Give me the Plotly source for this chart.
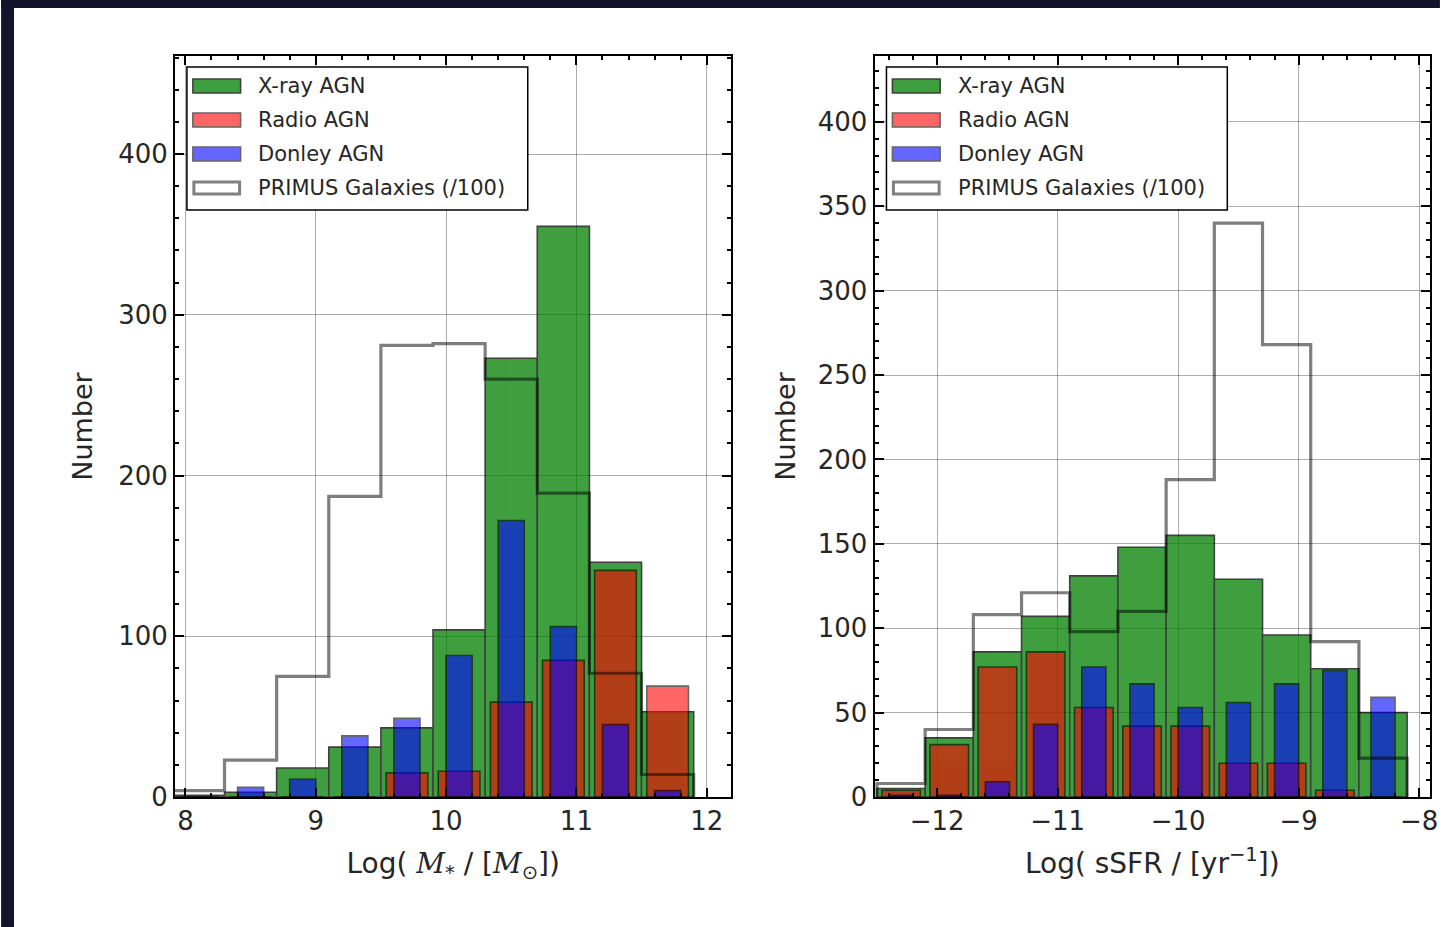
import plotly.graph_objects as go

# ---------------- data ----------------
# Left panel: stellar mass histogram (bin centres, width 0.4 dex)
mass_centers = [8.1, 8.5, 8.9, 9.3, 9.7, 10.1, 10.5, 10.9, 11.3, 11.7]
mass_xray   = [1, 3, 18, 31, 43, 104, 273, 355, 146, 53]
mass_radio  = [0, 0, 0, 0, 15, 16, 59, 85, 141, 69]
mass_donley = [0, 6, 11, 38, 49, 88, 172, 106, 45, 4]
mass_primus = [4, 23, 75, 187, 281, 282, 260, 189, 77, 14]

# Right panel: sSFR histogram (bin centres, width 0.4 dex)
ssfr_centers = [-12.3, -11.9, -11.5, -11.1, -10.7, -10.3, -9.9, -9.5, -9.1, -8.7, -8.3]
ssfr_xray   = [5, 35, 86, 107, 131, 148, 155, 129, 96, 76, 50]
ssfr_radio  = [4, 31, 77, 86, 53, 42, 42, 20, 20, 4, 0]
ssfr_donley = [1, 1, 9, 43, 77, 67, 53, 56, 67, 75, 59]
ssfr_primus = [8, 40, 108, 121, 98, 110, 188, 340, 268, 92, 23]

bin_width = 0.4

series_names = ["X-ray AGN", "Radio AGN", "Donley AGN", "PRIMUS Galaxies (/100)"]
series_colors = ["#008000", "#ff0000", "#0000ff", "#000000"]
series_alpha = [0.75, 0.6, 0.6, 0.5]
series_rwidth = [1.0, 0.8, 0.5]

# ---------------- layout constants ----------------
W, H = 1448, 927
ML, MR, MT, MB = 175, 10, 56, 130
PW, PH = W - ML - MR, H - MT - MB

def px_x(px):
    return (px - ML) / PW

def px_y(py):
    return 1 - (py - MT) / PH

FONT = "DejaVu Sans"
TXT = "#262626"

fig = go.Figure()

def add_panel(centers, xray, radio, donley, primus, xa, ya):
    for vals, name, col, a, rw in zip([xray, radio, donley], series_names[:3],
                                      series_colors[:3], series_alpha[:3], series_rwidth):
        fig.add_trace(go.Bar(
            x=centers, y=vals, width=bin_width * rw, name=name,
            marker=dict(color=col, line=dict(color="black", width=1.6)),
            opacity=a, xaxis=xa, yaxis=ya, showlegend=False))
    # step outline for PRIMUS from bin edges
    sx, sy = [], []
    for c, v in zip(centers, primus):
        lo, hi = c - bin_width / 2, c + bin_width / 2
        if not sx:
            sx += [lo]
            sy += [0]
        sx += [lo, hi]
        sy += [v, v]
    sx.append(sx[-1])
    sy.append(0)
    fig.add_trace(go.Scatter(
        x=sx, y=sy, mode="lines", name=series_names[3],
        line=dict(color="black", width=3.2), opacity=series_alpha[3],
        xaxis=xa, yaxis=ya, showlegend=False))

add_panel(mass_centers, mass_xray, mass_radio, mass_donley, mass_primus, "x", "y")
add_panel(ssfr_centers, ssfr_xray, ssfr_radio, ssfr_donley, ssfr_primus, "x2", "y2")

axis_common = dict(
    showline=True, linecolor="black", linewidth=2, mirror="ticks",
    ticks="inside", ticklen=9, tickwidth=2, tickcolor="black",
    showgrid=True, gridcolor="rgba(0,0,0,0.32)", gridwidth=1,
    zeroline=False,
    tickfont=dict(family=FONT, size=26, color=TXT),
)

left_dom = [px_x(175), px_x(735)]
right_dom = [px_x(879), px_x(1438)]

mass_title = ("Log( <i><span style=\"font-family:'DejaVu Serif'\">M</span></i><sub>*</sub> / "
              "[<i><span style=\"font-family:'DejaVu Serif'\">M</span></i><sub>⊙</sub>])")

fig.update_layout(
    width=W, height=H,
    margin=dict(l=ML, r=MR, t=MT, b=MB),
    paper_bgcolor="white", plot_bgcolor="white",
    barmode="overlay",
    font=dict(family=FONT, color=TXT),
    xaxis=dict(axis_common, domain=left_dom, range=[7.92, 12.19], dtick=1, tick0=0,
               minor=dict(ticks="inside", ticklen=4, tickwidth=1.5, tickcolor="black", dtick=0.2, showgrid=False),
               title=dict(text=mass_title, font=dict(family=FONT, size=28, color=TXT), standoff=18),
               anchor="y"),
    yaxis=dict(axis_common, domain=[0, 1], range=[0, 461], dtick=100,
               minor=dict(ticks="inside", ticklen=4, tickwidth=1.5, tickcolor="black", dtick=20, showgrid=False),
               title=dict(text="Number", font=dict(family=FONT, size=27, color=TXT), standoff=18),
               anchor="x"),
    xaxis2=dict(axis_common, domain=right_dom, range=[-12.52, -7.91], dtick=1, tick0=0,
                minor=dict(ticks="inside", ticklen=4, tickwidth=1.5, tickcolor="black", dtick=0.2, showgrid=False),
                title=dict(text="Log( sSFR / [yr<sup>−1</sup>])",
                           font=dict(family=FONT, size=28, color=TXT), standoff=18),
                anchor="y2"),
    yaxis2=dict(axis_common, domain=[0, 1], range=[0, 439], dtick=50,
                minor=dict(ticks="inside", ticklen=4, tickwidth=1.5, tickcolor="black", dtick=10, showgrid=False),
                title=dict(text="Number", font=dict(family=FONT, size=27, color=TXT), standoff=14),
                anchor="x2"),
)

shapes = []
annotations = []

# dark presentation border (top and left)
dark = "#13132b"
shapes.append(dict(type="rect", xref="paper", yref="paper", layer="above",
                   x0=px_x(0), x1=px_x(W), y0=px_y(8), y1=px_y(0),
                   fillcolor=dark, line=dict(width=0)))
shapes.append(dict(type="rect", xref="paper", yref="paper", layer="above",
                   x0=px_x(0), x1=px_x(13), y0=px_y(H), y1=px_y(0),
                   fillcolor=dark, line=dict(width=0)))

# custom legends drawn in axis-domain coordinates
def add_legend(xa, ya, frame_left, frame_width):
    xr, yr = xa + " domain", ya + " domain"
    def dx(px):
        return (px - frame_left) / frame_width
    def dy(py):
        return (797 - py) / PH
    box_l, box_r = frame_left + 12, frame_left + 355
    shapes.append(dict(type="rect", xref=xr, yref=yr, layer="above",
                       x0=dx(box_l), x1=dx(box_r), y0=dy(210), y1=dy(67),
                       fillcolor="white", line=dict(color="black", width=1.5)))
    rows = [86, 120, 154, 188]
    for i, (name, col, a) in enumerate(zip(series_names, series_colors, series_alpha)):
        yc = rows[i]
        if i < 3:
            shapes.append(dict(type="rect", xref=xr, yref=yr, layer="above",
                               x0=dx(box_l + 6), x1=dx(box_l + 54), y0=dy(yc + 7), y1=dy(yc - 7),
                               fillcolor=col, opacity=a, line=dict(color="black", width=1.6)))
        else:
            shapes.append(dict(type="rect", xref=xr, yref=yr, layer="above",
                               x0=dx(box_l + 7), x1=dx(box_l + 53), y0=dy(yc + 6), y1=dy(yc - 6),
                               fillcolor="white", line=dict(color="#808080", width=3)))
        annotations.append(dict(xref=xr, yref=yr, x=dx(box_l + 70), y=dy(yc),
                                text=name, showarrow=False, xanchor="left", yanchor="middle",
                                font=dict(family=FONT, size=21, color=TXT)))

add_legend("x", "y", 175, 560)
add_legend("x2", "y2", 879, 559)

fig.update_layout(shapes=shapes, annotations=annotations)

fig.write_html("out.html")
